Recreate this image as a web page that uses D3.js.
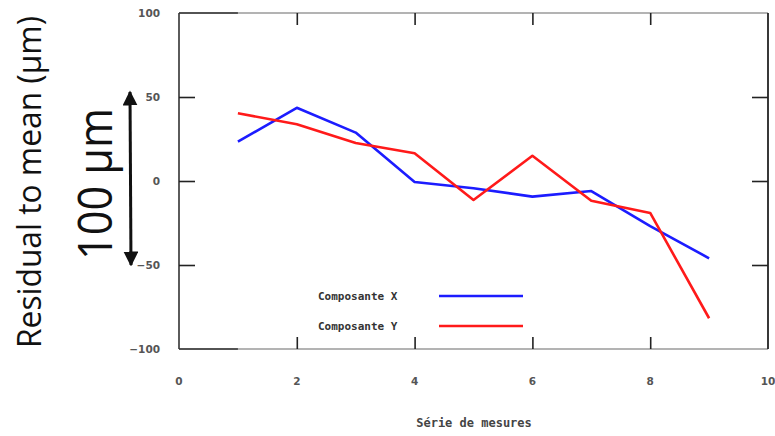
<!DOCTYPE html>
<html>
<head>
<meta charset="utf-8">
<script src="https://cdn.jsdelivr.net/npm/d3@7"></script>
<style>
  html, body { margin: 0; padding: 0; background: #fff; }
  svg { display: block; }
</style>
</head>
<body>
<svg id="chart" width="775" height="436"></svg>
<script>
// Measurement series (residuals, µm)
const measures = [1, 2, 3, 4, 5, 6, 7, 8, 9];
const compX = [23.4, 43.6, 28.8, -0.6, -4.3, -9.3, -6, -26.8, -46];
const compY = [40.3, 33.8, 22.6, 16.5, -11.3, 15, -11.8, -19, -81.7];
const xTicks = [0, 2, 4, 6, 8, 10];
const yTicks = [100, 50, 0, -50, -100];
const seriesNames = ["Composante X", "Composante Y"];
const seriesColors = ["#1c1cff", "#ff1a1a"];

const svg = d3.select("#chart");
const m = { left: 179, right: 768, top: 13, bottom: 349 };

const x = d3.scaleLinear().domain([0, 10]).range([m.left, m.right]);
const y = d3.scaleLinear().domain([-100, 100]).range([m.bottom, m.top]);

// Frame: light top/bottom rules with darker start, dark sides
const frame = svg.append("g");
frame.append("line").attr("x1", m.left).attr("x2", m.right).attr("y1", m.top).attr("y2", m.top)
  .attr("stroke", "#9a9a9a").attr("stroke-width", 1.6);
frame.append("line").attr("x1", m.left).attr("x2", m.right).attr("y1", m.bottom).attr("y2", m.bottom)
  .attr("stroke", "#9a9a9a").attr("stroke-width", 1.6);
frame.append("line").attr("x1", m.left).attr("x2", x(1)).attr("y1", m.top).attr("y2", m.top)
  .attr("stroke", "#333").attr("stroke-width", 1.6);
frame.append("line").attr("x1", m.left).attr("x2", x(1)).attr("y1", m.bottom).attr("y2", m.bottom)
  .attr("stroke", "#333").attr("stroke-width", 1.6);
frame.append("line").attr("x1", m.left).attr("x2", m.left).attr("y1", m.top).attr("y2", m.bottom)
  .attr("stroke", "#333").attr("stroke-width", 1.6);
frame.append("line").attr("x1", m.right).attr("x2", m.right).attr("y1", m.top).attr("y2", m.bottom)
  .attr("stroke", "#222").attr("stroke-width", 1.8);

// Inner tick marks via axes (no domain path)
const tickLen = 12;
const innerX = xTicks.filter(d => d > 0 && d < 10);
const innerY = yTicks.filter(d => d > -100 && d < 100);
function styleTicks(g) {
  g.select(".domain").remove();
  g.selectAll(".tick line").attr("stroke", "#222").attr("stroke-width", 1.6);
  g.selectAll(".tick text").remove();
}
svg.append("g").attr("transform", `translate(0,${m.bottom})`)
  .call(d3.axisTop(x).tickValues(innerX).tickSize(tickLen)).call(styleTicks);
svg.append("g").attr("transform", `translate(0,${m.top})`)
  .call(d3.axisBottom(x).tickValues(innerX).tickSize(tickLen)).call(styleTicks);
svg.append("g").attr("transform", `translate(${m.left},0)`)
  .call(d3.axisRight(y).tickValues(innerY).tickSize(16)).call(styleTicks);
svg.append("g").attr("transform", `translate(${m.right},0)`)
  .call(d3.axisLeft(y).tickValues(innerY).tickSize(16)).call(styleTicks);

// Tick labels
const labelFont = "'DejaVu Sans', Verdana, sans-serif";
svg.append("g").selectAll("text").data(yTicks).join("text")
  .attr("x", 160).attr("y", d => y(d)).attr("dy", "0.35em")
  .attr("text-anchor", "end")
  .attr("font-family", labelFont).attr("font-weight", "bold").attr("font-size", 10.5)
  .attr("fill", "#555").text(d => d === 0 ? "0" : d3.format("")(d).replace("-", "\u2212"));
svg.append("g").selectAll("text").data(xTicks).join("text")
  .attr("x", d => x(d)).attr("y", 381).attr("dy", "0.35em")
  .attr("text-anchor", "middle")
  .attr("font-family", labelFont).attr("font-weight", "bold").attr("font-size", 10.5)
  .attr("fill", "#555").text(d => d);

// Series lines
const line = d3.line().x((d, i) => x(measures[i])).y(d => y(d));
[compX, compY].forEach((s, k) => {
  svg.append("path").datum(s)
    .attr("d", line)
    .attr("fill", "none")
    .attr("stroke", seriesColors[k])
    .attr("stroke-width", 2.6)
    .attr("stroke-linejoin", "round");
});

// Legend
const mono = "'DejaVu Sans Mono', 'Liberation Mono', monospace";
const legend = svg.append("g");
seriesNames.forEach((name, k) => {
  const ly = 296 + k * 30;
  legend.append("text").attr("x", 318).attr("y", ly).attr("dy", "0.35em")
    .attr("font-family", mono).attr("font-weight", "bold").attr("font-size", 11)
    .attr("fill", "#333").text(name);
  legend.append("line").attr("x1", 439).attr("x2", 523).attr("y1", ly).attr("y2", ly)
    .attr("stroke", seriesColors[k]).attr("stroke-width", 2.6);
});

// Axis title
svg.append("text").attr("x", 474).attr("y", 427)
  .attr("text-anchor", "middle")
  .attr("font-family", mono).attr("font-weight", "bold").attr("font-size", 12)
  .attr("fill", "#444").text("Série de mesures");

// Y label, scale annotation and double arrow
const bigFont = "'Open Sans', 'Noto Sans', sans-serif";
svg.append("text")
  .attr("transform", `translate(41,182) rotate(-90)`)
  .attr("text-anchor", "middle")
  .attr("font-family", bigFont).attr("font-size", 32)
  .attr("textLength", 332).attr("lengthAdjust", "spacingAndGlyphs")
  .attr("fill", "#111").text("Residual to mean (µm)");
svg.append("text")
  .attr("transform", `translate(112,184) rotate(-90)`)
  .attr("text-anchor", "middle")
  .attr("font-family", bigFont).attr("font-size", 47)
  .attr("textLength", 152).attr("lengthAdjust", "spacingAndGlyphs")
  .attr("fill", "#111").text("100 µm");

const defs = svg.append("defs");
defs.append("marker").attr("id", "ah").attr("viewBox", "0 0 10 10")
  .attr("refX", 9).attr("refY", 5).attr("markerWidth", 5).attr("markerHeight", 5)
  .attr("orient", "auto-start-reverse").attr("markerUnits", "strokeWidth")
  .append("path").attr("d", "M0,0 L10,5 L0,10 Z").attr("fill", "#111");
svg.append("line").attr("x1", 130).attr("x2", 131).attr("y1", 92).attr("y2", 265)
  .attr("stroke", "#111").attr("stroke-width", 3)
  .attr("marker-start", "url(#ah)").attr("marker-end", "url(#ah)");
</script>
</body>
</html>
